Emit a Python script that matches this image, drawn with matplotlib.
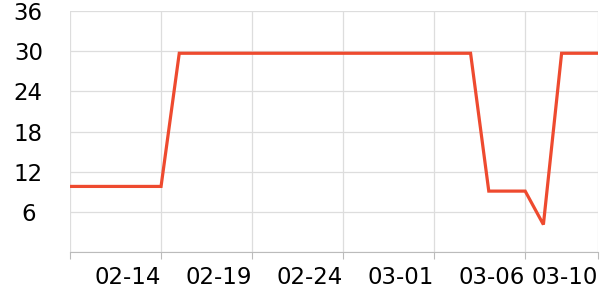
import numpy as np
import pandas as pd
import matplotlib
matplotlib.use("Agg")
import matplotlib.pyplot as plt
import matplotlib.dates as mdates

# daily values
dates = pd.date_range("2023-02-09", "2023-03-10", freq="D")
values = ([9.8] * 6 + [29.7] * 17 + [9.1] * 3 + [4.1] + [29.7] * 3)

tick_dates = pd.to_datetime(["2023-02-09", "2023-02-14", "2023-02-19",
                             "2023-02-24", "2023-03-01", "2023-03-06",
                             "2023-03-10"])
tick_labels = ["", "02-14", "02-19", "02-24", "03-01", "03-06", "03-10"]
y_ticks = [0, 6, 12, 18, 24, 30, 36]
y_labels = ["", "6", "12", "18", "24", "30", "36"]

fig = plt.figure(figsize=(6, 3), dpi=100)
ax = fig.add_axes([0.1167, 0.16, 0.88, 0.803])

ax.plot(dates, values, color="#ee4a2f", linewidth=2.3, solid_joinstyle="miter")

ax.set_ylim(0, 36)
ax.set_xlim(dates[0], dates[-1])
ax.set_yticks(y_ticks)
ax.set_yticklabels(y_labels, ha="center")
ax.set_xticks(tick_dates)
ax.set_xticklabels(tick_labels, ha="right")

ax.grid(True, color="#dddddd", linewidth=0.9)
ax.set_axisbelow(True)
for s in ["top", "right", "left"]:
    ax.spines[s].set_visible(False)
ax.spines["bottom"].set_color("#bbbbbb")
ax.tick_params(axis="y", length=0, pad=30, labelsize=16.5)
ax.tick_params(axis="x", length=5, color="#bbbbbb", pad=5, labelsize=16.5)

fig.savefig("out.png", dpi=100)
